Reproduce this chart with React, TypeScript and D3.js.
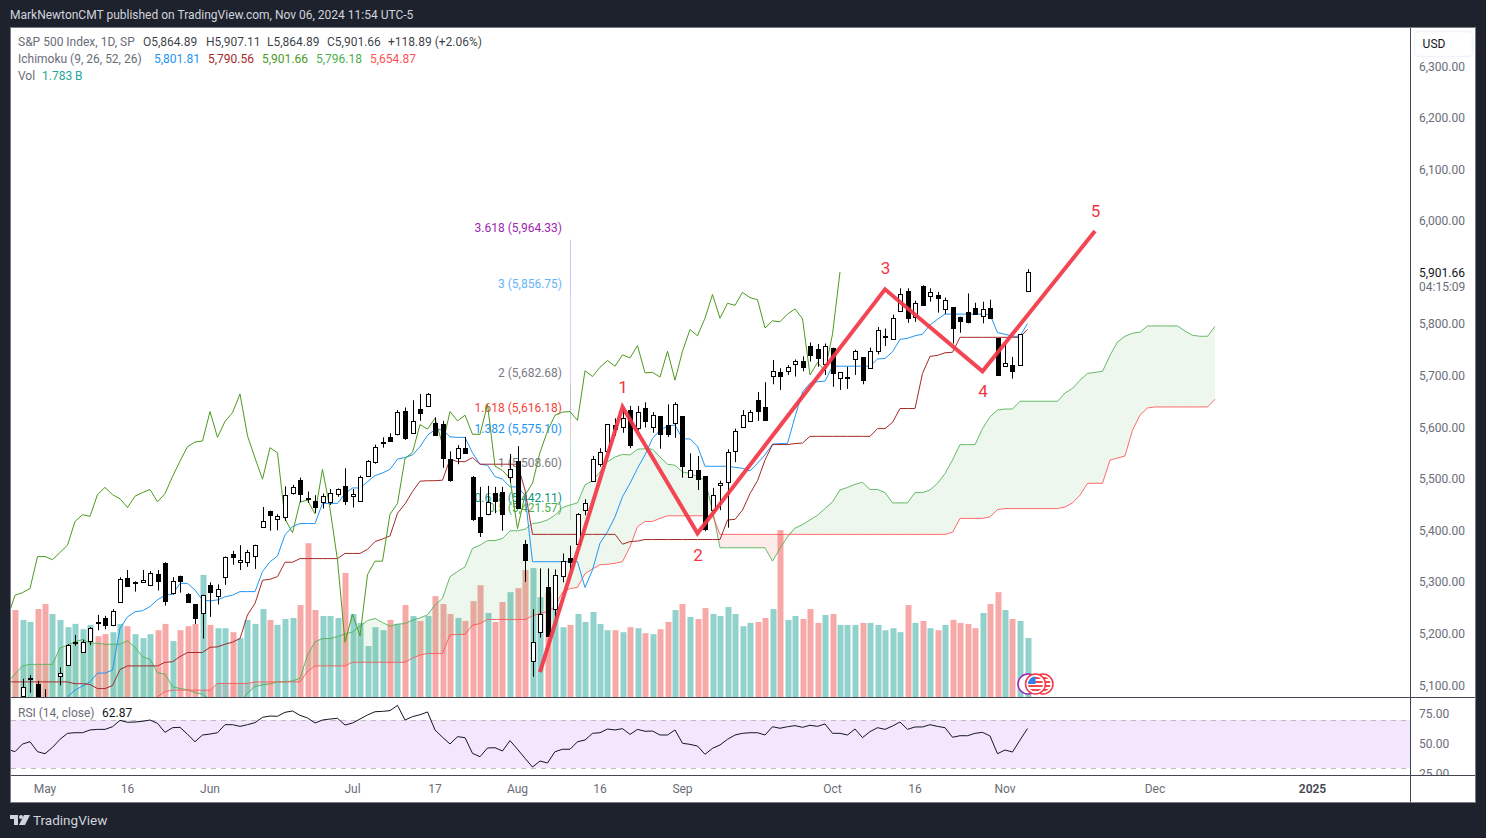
import React from "react";
import * as d3 from "d3";

// one entry per trading day, Apr 25 2024 (bar 0) to Nov 6 2024 (bar 135)
const opens = [
  5060, 5080, 5113, 5103, 5070, 5050, 5119, 5139, 5183, 5165,
  5185, 5223, 5230, 5217, 5261, 5308, 5299, 5301, 5296, 5316,
  5337, 5279, 5313, 5277, 5258, 5240, 5294, 5275, 5311, 5355,
  5341, 5339, 5351, 5406, 5439, 5422, 5427, 5472, 5498, 5464,
  5457, 5456, 5456, 5470, 5486, 5468, 5458, 5505, 5534, 5570,
  5581, 5589, 5633, 5589, 5636, 5641, 5608, 5606, 5540, 5542,
  5561, 5505, 5426, 5432, 5474, 5476, 5503, 5535, 5374, 5148,
  5203, 5291, 5249, 5311, 5348, 5374, 5439, 5497, 5528, 5553,
  5605, 5600, 5635, 5600, 5638, 5600, 5622, 5605, 5609, 5622,
  5503, 5518, 5506, 5439, 5488, 5493, 5554, 5600, 5612, 5653,
  5639, 5700, 5707, 5710, 5725, 5730, 5759, 5753, 5724, 5755,
  5695, 5696, 5733, 5736, 5715, 5749, 5776, 5772, 5826, 5864,
  5813, 5874, 5855, 5857, 5830, 5833, 5815, 5825, 5831, 5817,
  5831, 5773, 5720, 5722, 5720, 5864.89,
];
const highs = [
  5070, 5113, 5120, 5109, 5093, 5073, 5135, 5180, 5198, 5189,
  5213, 5237, 5235, 5248, 5310, 5324, 5302, 5324, 5322, 5324,
  5339, 5310, 5313, 5279, 5258, 5276, 5300, 5296, 5350, 5361,
  5372, 5363, 5373, 5446, 5439, 5432, 5486, 5489, 5503, 5476,
  5469, 5472, 5481, 5482, 5521, 5481, 5507, 5537, 5567, 5581,
  5589, 5634, 5639, 5653, 5665, 5667, 5620, 5613, 5554, 5566,
  5582, 5506, 5485, 5487, 5485, 5485, 5549, 5564, 5382, 5248,
  5327, 5327, 5325, 5356, 5371, 5434, 5461, 5545, 5560, 5606,
  5618, 5637, 5642, 5642, 5649, 5630, 5622, 5645, 5649, 5622,
  5550, 5545, 5506, 5483, 5497, 5558, 5598, 5634, 5634, 5669,
  5688, 5731, 5715, 5721, 5732, 5738, 5765, 5762, 5763, 5755,
  5707, 5718, 5751, 5736, 5755, 5795, 5792, 5819, 5870, 5870,
  5846, 5876, 5870, 5863, 5852, 5833, 5815, 5860, 5842, 5844,
  5848, 5773, 5762, 5737, 5781, 5907.11,
];
const lows = [
  5044, 5070, 5086, 5056, 5040, 5040, 5100, 5139, 5177, 5164,
  5178, 5207, 5209, 5215, 5261, 5293, 5282, 5301, 5296, 5284,
  5255, 5276, 5280, 5260, 5219, 5191, 5233, 5257, 5295, 5334,
  5324, 5330, 5326, 5406, 5400, 5401, 5419, 5470, 5455, 5454,
  5435, 5443, 5450, 5466, 5450, 5445, 5456, 5505, 5530, 5561,
  5574, 5585, 5576, 5589, 5613, 5640, 5584, 5522, 5495, 5529,
  5549, 5419, 5388, 5430, 5434, 5400, 5493, 5443, 5301, 5117,
  5193, 5195, 5230, 5300, 5324, 5374, 5430, 5497, 5524, 5553,
  5584, 5590, 5560, 5595, 5600, 5590, 5559, 5582, 5580, 5503,
  5503, 5479, 5399, 5439, 5440, 5406, 5533, 5600, 5611, 5613,
  5613, 5684, 5673, 5702, 5699, 5709, 5728, 5718, 5702, 5679,
  5673, 5675, 5702, 5684, 5714, 5742, 5758, 5772, 5826, 5803,
  5805, 5837, 5844, 5823, 5820, 5763, 5784, 5802, 5820, 5802,
  5811, 5702, 5720, 5695, 5720, 5864.89,
];
const closes = [
  5048, 5098, 5115, 5065, 5050, 5064, 5125, 5178, 5185, 5184,
  5211, 5221, 5217, 5244, 5306, 5293, 5301, 5305, 5319, 5303,
  5264, 5302, 5303, 5262, 5231, 5275, 5280, 5288, 5350, 5350,
  5344, 5358, 5372, 5418, 5431, 5428, 5470, 5484, 5470, 5462,
  5445, 5467, 5474, 5480, 5456, 5472, 5505, 5535, 5563, 5572,
  5574, 5631, 5581, 5612, 5629, 5665, 5584, 5541, 5500, 5561,
  5551, 5423, 5396, 5456, 5459, 5433, 5519, 5443, 5343, 5184,
  5238, 5196, 5315, 5341, 5341, 5432, 5453, 5540, 5552, 5606,
  5597, 5618, 5567, 5631, 5613, 5624, 5587, 5587, 5645, 5525,
  5517, 5501, 5404, 5469, 5492, 5552, 5593, 5624, 5630, 5631,
  5614, 5710, 5699, 5717, 5730, 5719, 5741, 5735, 5759, 5706,
  5707, 5698, 5748, 5692, 5748, 5790, 5778, 5812, 5858, 5812,
  5841, 5837, 5862, 5852, 5848, 5793, 5807, 5805, 5820, 5830,
  5811, 5702, 5726, 5710, 5781, 5901.66,
];
// billions of shares
const volumes = [
  2.63, 2.33, 2.27, 2.66, 2.81, 2.51, 2.33, 2.11, 2.21, 2.05,
  2.18, 1.84, 1.90, 1.96, 2.21, 2.14, 1.90, 1.78, 1.90, 2.02,
  2.21, 1.69, 2.02, 2.14, 2.21, 3.69, 2.18, 2.08, 2.08, 1.96,
  1.78, 2.33, 2.21, 2.66, 2.33, 2.18, 2.36, 2.39, 2.78, 4.65,
  2.63, 2.45, 2.45, 2.39, 3.75, 2.51, 2.24, 1.54, 2.11, 2.02,
  2.33, 2.21, 2.78, 2.45, 2.30, 2.45, 3.05, 2.81, 2.51, 2.39,
  2.30, 2.90, 3.38, 2.54, 2.27, 2.87, 3.17, 3.29, 3.84, 3.90,
  3.02, 3.14, 2.69, 2.11, 2.18, 2.51, 2.27, 2.57, 2.21, 2.02,
  2.02, 1.96, 2.11, 2.08, 1.93, 1.90, 2.05, 2.27, 2.63, 2.81,
  2.42, 2.36, 2.69, 2.51, 2.45, 2.72, 2.51, 2.14, 2.24, 2.27,
  2.39, 2.66, 5.05, 2.33, 2.45, 2.36, 2.66, 2.24, 2.48, 2.51,
  2.18, 2.18, 2.18, 2.24, 2.24, 2.18, 2.02, 2.08, 1.96, 2.78,
  2.24, 2.30, 2.08, 2.02, 2.18, 2.33, 2.24, 2.21, 2.08, 2.54,
  2.81, 3.17, 2.63, 2.36, 2.30, 1.783,
];
// starts one bar left of bar 0
const rsiValues = [
  45.6, 43.6, 50.0, 51.9, 43.6, 41.9, 47.2, 53.9, 58.9, 59.4, 59.4,
  61.7, 62.2, 62.2, 64.4, 69.7, 68.1, 68.3, 68.9, 70.0, 67.2,
  59.7, 63.6, 63.9, 58.1, 51.9, 57.5, 58.3, 59.4, 66.1, 66.1,
  64.7, 66.1, 67.8, 72.2, 73.3, 73.1, 76.4, 77.5, 73.9, 71.7,
  67.5, 70.0, 70.8, 71.4, 65.8, 67.5, 70.8, 74.2, 76.9, 77.2,
  77.8, 82.2, 70.0, 72.8, 74.4, 76.7, 61.7, 55.6, 50.0, 56.1,
  55.3, 42.2, 39.4, 46.7, 46.9, 44.2, 52.8, 45.6, 38.1, 30.8,
  35.8, 34.2, 43.6, 45.6, 45.6, 51.9, 53.3, 58.9, 59.4, 62.5,
  61.7, 62.8, 58.0, 62.2, 60.6, 60.8, 57.5, 57.5, 61.7, 50.6,
  49.7, 48.3, 41.4, 46.4, 49.2, 53.9, 57.5, 58.9, 59.4, 59.4,
  57.5, 64.4, 63.1, 64.4, 65.3, 63.9, 65.6, 64.7, 66.7, 58.9,
  58.9, 57.5, 62.5, 55.3, 60.3, 63.6, 62.2, 65.0, 68.3, 62.2,
  64.2, 64.2, 66.1, 64.7, 63.6, 55.6, 56.9, 56.9, 58.9, 59.7,
  56.7, 41.9, 45.0, 43.3, 53.3, 62.87,
];

const tenkanFirstBar = 7;
const tenkan = [
  5078, 5091, 5099, 5107, 5124, 5124, 5130, 5211, 5233, 5243, 5245, 5253, 5266,
  5275, 5277, 5298, 5298, 5285, 5266, 5264, 5266, 5272, 5275, 5282, 5282, 5282,
  5321, 5340, 5351, 5392, 5408, 5414, 5414, 5414, 5453, 5453, 5453, 5472, 5483,
  5483, 5495, 5507, 5512, 5519, 5539, 5542, 5547, 5563, 5585, 5596, 5596, 5582,
  5581, 5581, 5551, 5529, 5527, 5505, 5500, 5485, 5485, 5469, 5340, 5340, 5340,
  5340, 5340, 5340, 5340, 5290, 5324, 5376, 5398, 5427, 5466, 5492, 5521, 5547,
  5579, 5595, 5603, 5605, 5578, 5578, 5564, 5525, 5525, 5525, 5525, 5523, 5521,
  5516, 5531, 5547, 5568, 5569, 5569, 5621, 5669, 5686, 5689, 5690, 5719, 5719,
  5719, 5719, 5719, 5719, 5733, 5734, 5747, 5771, 5773, 5778, 5781, 5799, 5810,
  5820, 5820, 5820, 5820, 5820, 5820, 5819, 5784, 5781, 5777, 5777, 5801.81,
];
const cloudFirstBar = -1;
const kijun = [
  5107, 5107, 5107, 5107, 5107, 5107, 5107, 5107, 5107, 5103.5, 5103.5, 5102,
  5094, 5094, 5100, 5131, 5138, 5138, 5138, 5138, 5138, 5145, 5146, 5156, 5164,
  5164, 5164, 5174, 5175, 5180, 5184, 5191, 5237, 5259, 5304, 5306, 5311, 5339,
  5339, 5346, 5346, 5346, 5346, 5346, 5346, 5356, 5356, 5356, 5364, 5379, 5384,
  5390, 5434, 5452, 5476, 5496, 5497, 5497, 5498, 5539, 5534, 5534, 5542, 5529,
  5529, 5529, 5529, 5529, 5529, 5479, 5393, 5393, 5393, 5393, 5393, 5393, 5393,
  5393, 5393, 5393, 5393, 5393, 5374, 5379, 5380, 5383, 5383, 5383, 5383, 5383,
  5383, 5383, 5383, 5383, 5383, 5383, 5421, 5422, 5440, 5472, 5497, 5537, 5567,
  5567, 5567, 5569, 5570, 5583, 5583, 5583, 5583, 5583, 5583, 5583, 5583, 5583,
  5598, 5598, 5610, 5637, 5637, 5637, 5705, 5738, 5740, 5745, 5746, 5775, 5775,
  5775, 5775, 5775, 5775, 5775, 5775, 5775, 5790.56,
];
const senkouA = [
  5105, 5123, 5138, 5141, 5141, 5141, 5141, 5173, 5178, 5185, 5189, 5182, 5182,
  5180, 5180, 5180, 5187, 5174, 5156, 5151, 5125, 5122, 5098, 5094, 5092, 5086,
  5083, 5072, 5060, 5060, 5062, 5068, 5085, 5098, 5101, 5103, 5107, 5107, 5109,
  5114, 5159, 5185, 5191, 5191, 5195, 5200, 5204, 5215, 5226, 5230, 5222, 5215,
  5219, 5220, 5227, 5231, 5237, 5256, 5269, 5311, 5321, 5330, 5366, 5372, 5381,
  5381, 5385, 5400, 5400, 5403, 5414, 5416, 5421, 5430, 5445, 5450, 5454, 5489,
  5497, 5514, 5534, 5543, 5548, 5547, 5558, 5559, 5558, 5543, 5529, 5527, 5514,
  5511, 5505, 5498, 5440, 5367, 5367, 5367, 5367, 5367, 5367, 5367, 5341, 5366,
  5388, 5405, 5412, 5421, 5430, 5443, 5456, 5479, 5484, 5490, 5494, 5480, 5480,
  5474, 5454, 5454, 5454, 5474, 5474, 5479, 5492, 5511, 5537, 5567, 5567, 5567,
  5598, 5621, 5634, 5636, 5636, 5651, 5651, 5651, 5651, 5651, 5651, 5667, 5676,
  5692, 5705, 5707, 5709, 5740, 5766, 5777, 5783, 5785, 5797, 5797, 5797, 5797,
  5797, 5787, 5779, 5777, 5777, 5796.18,
];
const senkouB = [
  5050, 5050, 5050, 5050, 5050, 5050, 5050, 5050, 5050, 5050, 5050, 5050, 5050,
  5050, 5050, 5050, 5050, 5050, 5050, 5050, 5078, 5088, 5091, 5091, 5091, 5091,
  5091, 5091, 5104, 5104, 5104, 5104, 5104, 5107, 5107, 5107, 5107, 5107, 5107,
  5107, 5127, 5138, 5138, 5138, 5138, 5138, 5145, 5145, 5145, 5145, 5145, 5145,
  5145, 5145, 5153, 5159, 5162, 5162, 5162, 5198, 5199, 5199, 5217, 5220, 5228,
  5228, 5228, 5228, 5228, 5228, 5235, 5240, 5243, 5253, 5281, 5288, 5290, 5317,
  5326, 5334, 5335, 5337, 5340, 5369, 5408, 5418, 5418, 5424, 5429, 5429, 5429,
  5429, 5429, 5429, 5429, 5393, 5393, 5393, 5393, 5393, 5393, 5393, 5393, 5393,
  5393, 5393, 5393, 5393, 5393, 5393, 5393, 5393, 5393, 5393, 5393, 5393, 5393,
  5393, 5393, 5393, 5393, 5393, 5393, 5393, 5393, 5393, 5397, 5424, 5424, 5424,
  5424, 5427, 5441, 5443, 5443, 5443, 5443, 5443, 5443, 5443, 5443, 5446, 5454,
  5469, 5492, 5492, 5492, 5537, 5541, 5545, 5595, 5624, 5638, 5640, 5640, 5640,
  5640, 5640, 5640, 5640, 5640, 5654.87,
];
// lagging span: the closes moved back by this many bars
const chikouShift = 25;

const waveBars = [70, 81, 91, 116, 129, 144];
const wavePrices = [5126, 5640, 5395, 5868, 5709, 5981];
const waveLabels = ["", "1", "2", "3", "4", "5"];

const fibRatios = ["3.618", "3", "2", "1.618", "1.382", "1", "0.618", "0.5"];
const fibPrices = [5964.33, 5856.75, 5682.68, 5616.18, 5575.1, 5508.6, 5442.11, 5421.57];
const fibColors = ["#9c27b0", "#64b5f6", "#787b86", "#f44336", "#2196f3", "#787b86", "#089981", "#4caf50"];
const fibStemColors = ["#c9c6f5", "#e3cdf0", "#c0c0c8", "#e0cfc0", "#b8e0e0", "#b8e0d8", "#bfe5c8"];
const fibBar = 74;

const priceTicks = [5100, 5200, 5300, 5400, 5500, 5600, 5700, 5800, 6000, 6100, 6200, 6300];
const rsiTicks = [75, 50, 25];
const timeBars = [4, 15, 26, 45, 56, 67, 78, 89, 109, 120, 132, 152, 173];
const timeLabels = ["May", "16", "Jun", "Jul", "17", "Aug", "16", "Sep", "Oct", "16", "Nov", "Dec", "2025"];
// right mark first: the middle flag sits on top of the other two
const eventMarkBars = [137, 135, 136];
const eventMarkColors = ["#f23645", "#9c27b0", "#f23645"];

const FONT = "Roboto, sans-serif";
const GREY = "#6a6d78";
const INK = "#131722";
const TEAL = "rgba(38,166,154,0.5)";
const RED = "rgba(239,83,80,0.5)";
const WAVE = "#f23645";

const x = d3.scaleLinear().domain([0, 135]).range([15, 1027.5]);
const y = d3.scaleLinear().domain([5100, 6300]).range([685.5, 66.5]);
const yVol = d3.scaleLinear().domain([0, 5.05]).range([697, 530]);
const yRsi = d3.scaleLinear().domain([30, 70]).range([768, 720]);
const money = d3.format(",.2f");
// keep candles on whole pixels, the way the chart does
const px = (i: number) => Math.round(x(i)) + 0.5;

const line = (first: number, scale: (v: number) => number, values: number[]) =>
  d3.line<number>().x((_, i) => x(first + i)).y((d) => scale(d))(values) || "";

function Candles() {
  return (
    <g>
      {closes.map((c, i) => {
        const o = opens[i];
        const up = c >= o;
        const top = y(Math.max(o, c));
        const h = Math.max(Math.abs(y(o) - y(c)), 1);
        return (
          <g key={i}>
            <line x1={px(i)} x2={px(i)} y1={y(highs[i])} y2={y(lows[i])} stroke="#000" />
            <rect x={px(i) - 2} y={Math.round(top) + 0.5} width={4} height={Math.round(h)}
              fill={up ? "#fff" : "#000"} stroke="#000" />
          </g>
        );
      })}
    </g>
  );
}

function Cloud() {
  const rows = senkouA.map((a, i) => ({ bar: cloudFirstBar + i, a, b: senkouB[i] }));
  const upper = d3.area<any>().x((d) => x(d.bar)).y0((d) => y(d.b)).y1((d) => y(Math.max(d.a, d.b)));
  const lower = d3.area<any>().x((d) => x(d.bar)).y0((d) => y(d.a)).y1((d) => y(Math.max(d.a, d.b)));
  return (
    <g>
      <path d={upper(rows) || ""} fill="rgba(76,175,80,0.1)" />
      <path d={lower(rows) || ""} fill="rgba(244,67,54,0.1)" />
      <path d={line(cloudFirstBar, y, senkouA)} fill="none" stroke="#4caf50" strokeOpacity={0.85} />
      <path d={line(cloudFirstBar, y, senkouB)} fill="none" stroke="#ff5252" strokeOpacity={0.85} />
    </g>
  );
}

function Fib() {
  return (
    <g>
      {fibStemColors.map((c, i) => (
        <line key={i} x1={x(fibBar) + 0.5} x2={x(fibBar) + 0.5} y1={y(fibPrices[i])} y2={y(fibPrices[i + 1])} stroke={c} />
      ))}
      {fibRatios.map((r, i) => (
        <text key={i} x={562} y={y(fibPrices[i]) - 7.5} textAnchor="end" fontSize={12} fill={fibColors[i]}>
          {`${r} (${money(fibPrices[i])})`}
        </text>
      ))}
    </g>
  );
}

function Wave() {
  const points = waveBars.map((b, i) => [x(b), y(wavePrices[i])] as [number, number]);
  const offsets = [0, -14, 28, -15, 26, -14];
  return (
    <g>
      <path d={d3.line()(points) || ""} fill="none" stroke={WAVE} strokeWidth={4} strokeOpacity={0.92} />
      {waveLabels.map((t, i) => (
        <text key={i} x={points[i][0] + 0.5} y={points[i][1] + offsets[i]} textAnchor="middle" fontSize={17} fill={WAVE}>{t}</text>
      ))}
    </g>
  );
}

function EventMark({ bar, color }: { bar: number; color: string }) {
  const cx = x(bar) + 0.5;
  const id = `flag${bar}`;
  return (
    <g>
      <circle cx={cx} cy={684} r={10} fill="#fff" stroke={color} strokeWidth={1.5} />
      <clipPath id={id}><circle cx={cx} cy={684} r={7.5} /></clipPath>
      {color === "#f23645" && (
        <g clipPath={`url(#${id})`}>
          {[677, 681, 685, 689].map((s) => <rect key={s} x={cx - 8} y={s} width={16} height={2} fill="#f0484e" />)}
          <rect x={cx - 8} y={676} width={8} height={8} fill="#2f80ed" />
        </g>
      )}
    </g>
  );
}

function Legend() {
  const row1: [number, string, string][] = [
    [143, "O5,864.89", INK], [206, "H5,907.11", INK], [267, "L5,864.89", INK], [327, "C5,901.66", INK], [388, "+118.89 (+2.06%)", INK],
  ];
  const row2: [number, string, string][] = [
    [154, "5,801.81", "#2196f3"], [208, "5,790.56", "#a52a2a"], [262, "5,901.66", "#4c9a1f"], [316, "5,796.18", "#4caf50"], [370, "5,654.87", "#ff5252"],
  ];
  return (
    <g fontSize={12}>
      <text x={18} y={46} fill={GREY}>S&amp;P 500 Index, 1D, SP</text>
      {row1.map(([tx, t, c]) => <text key={t} x={tx} y={46} fill={c} fillOpacity={0.85}>{t}</text>)}
      <text x={18} y={63} fill={GREY}>Ichimoku (9, 26, 52, 26)</text>
      {row2.map(([tx, t, c]) => <text key={t} x={tx} y={63} fill={c}>{t}</text>)}
      <text x={18} y={80} fill={GREY}>Vol</text>
      <text x={42} y={80} fill="#26a69a">1.783 B</text>
    </g>
  );
}

export default function App() {
  return (
    <svg width={1486} height={838} style={{ position: "absolute", left: 0, top: 0, fontFamily: FONT }}>
      <rect width={1486} height={838} fill="#1e222d" />
      <text x={10} y={19} fontSize={12} fill="#d1d4dc">MarkNewtonCMT published on TradingView.com, Nov 06, 2024 11:54 UTC-5</text>

      <rect x={10.5} y={27.5} width={1465} height={775} fill="#fff" stroke="#787b86" />
      <clipPath id="mainPane"><rect x={11} y={28} width={1399} height={669} /></clipPath>
      <clipPath id="rsiPane"><rect x={11} y={698} width={1399} height={77} /></clipPath>
      <clipPath id="rsiAxis"><rect x={1411} y={698} width={64} height={77} /></clipPath>

      <g clipPath="url(#mainPane)">
        {volumes.map((v, i) => (
          <rect key={i} x={Math.round(x(i)) - 2.5} y={yVol(v)} width={6} height={697 - yVol(v)}
            fill={closes[i] >= opens[i] ? TEAL : RED} />
        ))}
        <Fib />
        <Cloud />
        <path d={line(tenkanFirstBar, y, tenkan)} fill="none" stroke="#2196f3" />
        <path d={line(cloudFirstBar, y, kijun)} fill="none" stroke="#a52a2a" />
        <path d={d3.line<number>().x((_, i) => x(i - chikouShift + 24)).y((d) => y(d))(closes.slice(24)) || ""}
          fill="none" stroke="#4c9a1f" />
        <Candles />
        <Wave />
        {eventMarkBars.map((b, i) => <EventMark key={b} bar={b} color={eventMarkColors[i]} />)}
      </g>

      <g clipPath="url(#rsiPane)">
        <rect x={11} y={yRsi(70)} width={1399} height={yRsi(30) - yRsi(70)} fill="#f3e6fd" />
        {[70, 30].map((r) => (
          <line key={r} x1={11} x2={1410} y1={yRsi(r) + 0.5} y2={yRsi(r) + 0.5} stroke="#bdbdbd" strokeDasharray="5 5" />
        ))}
        <path d={line(-1, yRsi, rsiValues)} fill="none" stroke="#131722" strokeWidth={1} />
      </g>
      <text x={18} y={717} fontSize={12} fill={GREY}>RSI (14, close)</text>
      <text x={102} y={717} fontSize={12} fill={INK}>62.87</text>

      <line x1={11} x2={1475} y1={697.5} y2={697.5} stroke="#434651" />
      <line x1={11} x2={1475} y1={775.5} y2={775.5} stroke="#434651" />
      <line x1={1410.5} x2={1410.5} y1={28} y2={802} stroke="#434651" />

      <rect x={1414.5} y={31.5} width={58} height={25} rx={4} fill="#fff" stroke="#f0f3fa" strokeWidth={1.5} />
      <text x={1434} y={48} fontSize={12} textAnchor="middle" fill={INK}>USD</text>
      {priceTicks.map((p) => (
        <text key={p} x={1419} y={y(p) + 4} fontSize={12} fill={GREY}>{money(p)}</text>
      ))}
      <text x={1419} y={y(closes[135]) + 5} fontSize={12} fill={INK}>{money(closes[135])}</text>
      <text x={1419} y={291} fontSize={12} fill={GREY}>04:15:09</text>
      <g clipPath="url(#rsiAxis)">
        {rsiTicks.map((r) => (
          <text key={r} x={1419} y={yRsi(r) + 3.5} fontSize={12} fill={GREY}>{money(r)}</text>
        ))}
      </g>

      {timeLabels.map((t, i) => (
        <text key={i} x={x(timeBars[i])} y={792.5} fontSize={12} textAnchor="middle"
          fill={t === "2025" ? "#434651" : GREY} fontWeight={t === "2025" ? 600 : 400}>{t}</text>
      ))}

      <Legend />

      <g fill="#d1d4dc">
        <path d="M10 815h8v10h-4v-6h-4z" />
        <circle cx={21} cy={817} r={2} />
        <path d="M24 815h6l-5 10h-6z" />
        <text x={33} y={825} fontSize={13.5}>TradingView</text>
      </g>
    </svg>
  );
}
